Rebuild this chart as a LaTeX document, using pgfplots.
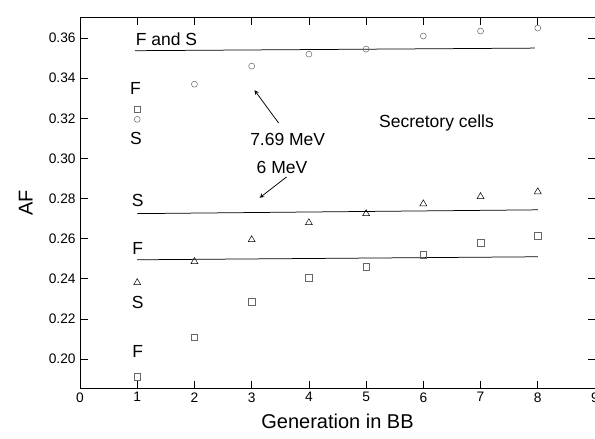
\documentclass[border=0pt]{standalone}
\usepackage{fontspec}
\setmainfont{Liberation Sans}
\usepackage{pgfplots}
\pgfplotsset{compat=1.18}

% 7.69 MeV, F and S
\pgfplotstableread{
x y
1 0.3195
2 0.3370
3 0.3460
4 0.3520
5 0.3545
6 0.3610
7 0.3635
8 0.3650
}\highS
% 6 MeV, S
\pgfplotstableread{
x y
1 0.2381
2 0.2486
3 0.2595
4 0.2680
5 0.2725
6 0.2774
7 0.2810
8 0.2834
}\lowS
% 6 MeV, F
\pgfplotstableread{
x y
1 0.1913
2 0.2110
3 0.2287
4 0.2406
5 0.2460
6 0.2520
7 0.2580
8 0.2615
}\lowF

\begin{document}
\begin{tikzpicture}
\begin{axis}[
    name=ax,
    scale only axis,
    width=412pt,
    height=296pt,
    xmin=0, xmax=9,
    ymin=0.1856, ymax=0.370,
    xtick={0,1,2,3,4,5,6,7,8,9},
    ytick={0.20,0.22,0.24,0.26,0.28,0.30,0.32,0.34,0.36},
    yticklabel style={/pgf/number format/.cd, fixed, fixed zerofill, precision=2},
    /pgf/number format/assume math mode=true,
    tick align=inside,
    major tick length=6pt,
    tick style={black, line width=0.6pt},
    axis line style={line width=0.8pt},
    ticklabel style={font=\fontsize{11}{13}\selectfont},
    xlabel={Generation in BB},
    ylabel={AF},
    label style={font=\fontsize{16}{18}\selectfont},
    xlabel style={yshift=-3pt},
    ylabel style={yshift=6pt},
    clip=false,
]
\addplot[only marks, mark=o, mark size=2.4pt, gray!80!black, thin] table {\highS};
\addplot[only marks, mark=square, mark size=2.6pt, gray!80!black, thin] coordinates {(1,0.3245)};
\addplot[only marks, mark=triangle, mark size=3.2pt, black, thin] table {\lowS};
\addplot[only marks, mark=square, mark size=2.6pt, gray!80!black, thin] table {\lowF};

\addplot[black, line width=0.6pt] coordinates {(0.96,0.3537) (7.95,0.3550)};
\addplot[black, line width=0.6pt] coordinates {(1,0.2725) (8,0.2744)};
\addplot[black, line width=0.6pt] coordinates {(1,0.2495) (8,0.2510)};

\begin{scope}[font=\fontsize{14}{16}\selectfont]
\node[anchor=base west, inner sep=0pt] at (axis cs:0.97,0.3565) {F and S};
\node at (axis cs:0.97,0.3350) {F};
\node at (axis cs:0.98,0.3100) {S};
\node at (axis cs:1.01,0.2789) {S};
\node at (axis cs:1.01,0.2550) {F};
\node at (axis cs:1.01,0.2284) {S};
\node at (axis cs:1.01,0.2037) {F};
\node at (axis cs:3.63,0.3093) {7.69 MeV};
\node at (axis cs:3.53,0.2956) {6 MeV};
\node at (axis cs:6.23,0.3177) {Secretory cells};
\end{scope}
\draw[-stealth, line width=0.6pt] (axis cs:3.47,0.3177) -- (axis cs:3.05,0.3340);
\draw[-stealth, line width=0.6pt] (axis cs:3.61,0.2908) -- (axis cs:3.14,0.2804);
\end{axis}
\pgfresetboundingbox
\useasboundingbox ([xshift=-64pt,yshift=-40pt]ax.south west) rectangle ([yshift=14.4pt]ax.north east);
\end{tikzpicture}
\end{document}
